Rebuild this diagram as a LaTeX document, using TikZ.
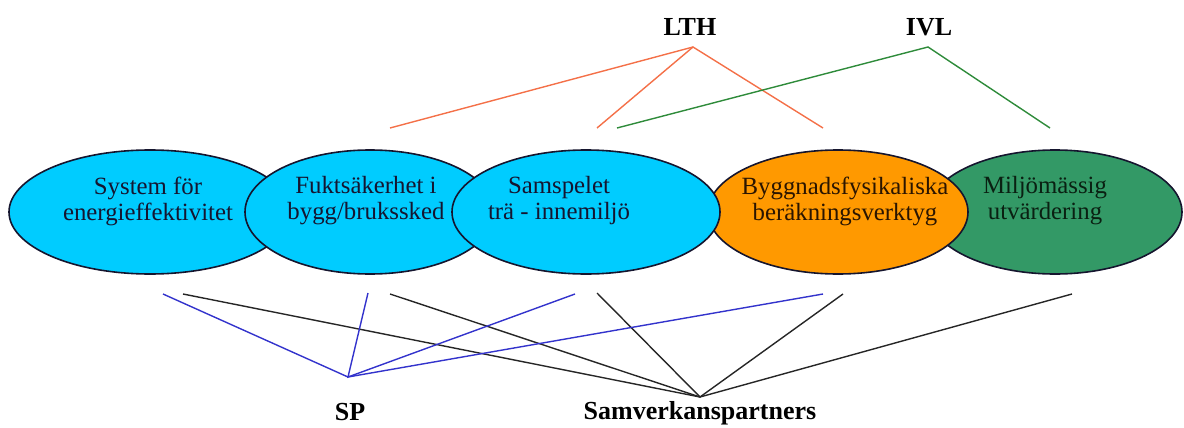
\documentclass[tikz,border=0pt]{standalone}
\usepackage{fontspec}
\setmainfont{Liberation Serif}
\usetikzlibrary{shapes.geometric}
\definecolor{cyanfill}{HTML}{00CCFF}
\definecolor{orangefill}{HTML}{FF9900}
\definecolor{greenfill}{HTML}{339966}
\definecolor{outl}{HTML}{15152E}
\definecolor{lthcol}{HTML}{F47048}
\definecolor{ivlcol}{HTML}{2E8B3A}
\definecolor{spcol}{HTML}{3333CC}
\definecolor{txtcol}{HTML}{151530}
\definecolor{txtbrown}{HTML}{2A1500}
\definecolor{txtgreen}{HTML}{0A2012}
\begin{document}
\begin{tikzpicture}[x=0.5pt,y=-0.5pt,
  blob/.style={ellipse, draw=outl, line width=0.8pt, inner sep=0pt, minimum height=62pt},
  blobtext/.style={align=center, font=\fontsize{12.4}{13}\selectfont, text=txtcol, inner sep=0pt},
  orglabel/.style={font=\bfseries\fontsize{13}{15}\selectfont, inner sep=0pt},
  lthline/.style={draw=lthcol, line width=0.7pt},
  ivlline/.style={draw=ivlcol, line width=0.7pt},
  spline/.style={draw=spcol, line width=0.7pt},
  samline/.style={draw=black!85, line width=0.7pt}]
\useasboundingbox (0,0) rectangle (1184,428);

% ellipses (drawing order gives the overlaps)
\node[blob, fill=cyanfill, minimum width=141pt] (e1) at (150,212) {};
\node[blob, fill=cyanfill, minimum width=125pt] (e2) at (370,212) {};
\node[blob, fill=greenfill, minimum width=127pt] (e5) at (1055,212) {};
\node[blob, fill=orangefill, minimum width=130pt] (e4) at (838,212) {};
\node[blob, fill=cyanfill, minimum width=134pt] (e3) at (586,212) {};

\node[blobtext] (t1) at (148,201) {System för\\energieffektivitet};
\node[blobtext] (t2) at (366,201) {Fuktsäkerhet i\\bygg/brukssked};
\node[blobtext] (t3) at (559,201) {Samspelet\\trä - innemiljö};
\node[blobtext, text=txtbrown] (t4) at (845,201) {Byggnadsfysikaliska\\beräkningsverktyg};
\node[blobtext, text=txtgreen] (t5) at (1045,201) {Miljömässig\\utvärdering};

% organisation labels
\node[orglabel] (lth) at (690,27) {LTH};
\node[orglabel] (ivl) at (929,27) {IVL};
\node[orglabel] (sp) at (350,412) {SP};
\node[orglabel] (sam) at (700,413) {Samverkanspartners};

% apex points
\coordinate (lthp) at (693,47);
\coordinate (ivlp) at (928,47);
\coordinate (spp) at (348,377);
\coordinate (samp) at (700,397);

% top ends
\coordinate (lt1) at (390,128);
\coordinate (lt2) at (597,128);
\coordinate (lt3) at (823,128);
\coordinate (iv1) at (617,128);
\coordinate (iv2) at (1050,128);

% bottom ends
\coordinate (sp1) at (163,294);
\coordinate (sp2) at (368,293);
\coordinate (sp3) at (575,294);
\coordinate (sp4) at (823,294);
\coordinate (sa1) at (183,294);
\coordinate (sa2) at (390,294);
\coordinate (sa3) at (597,293);
\coordinate (sa4) at (843,294);
\coordinate (sa5) at (1072,294);

\draw[lthline] (lt1) -- (lthp) -- (lt3);
\draw[lthline] (lthp) -- (lt2);
\draw[ivlline] (iv1) -- (ivlp) -- (iv2);

\draw[samline] (sa1) -- (samp) -- (sa5);
\draw[samline] (sa2) -- (samp) -- (sa4);
\draw[samline] (sa3) -- (samp);
\draw[spline] (sp1) -- (spp) -- (sp4);
\draw[spline] (sp2) -- (spp) -- (sp3);
\end{tikzpicture}
\end{document}
